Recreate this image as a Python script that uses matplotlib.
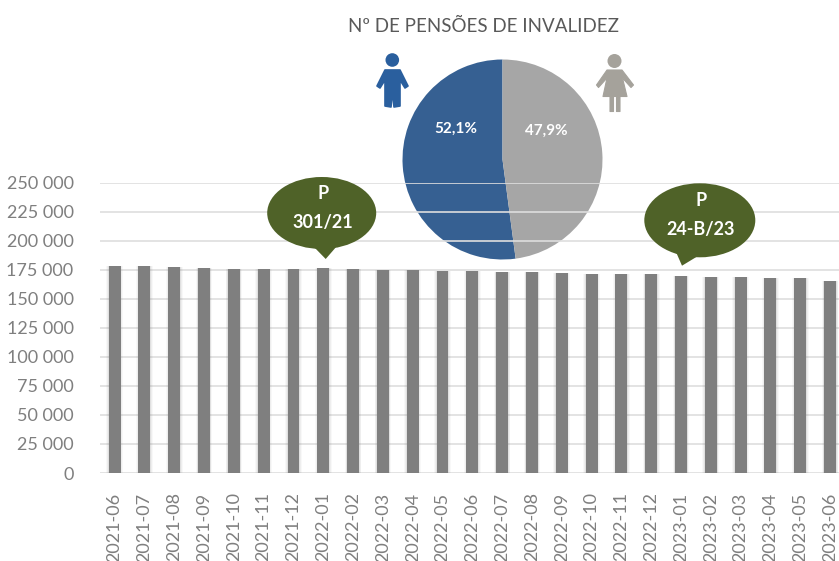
import numpy as np
import matplotlib
matplotlib.use("Agg")
import matplotlib.pyplot as plt
from matplotlib.patches import Ellipse, Polygon, Circle

plt.rcParams['font.family'] = ['Lato', 'DejaVu Sans']

###################### Data ######################
months = ["2021-06", "2021-07", "2021-08", "2021-09", "2021-10", "2021-11", "2021-12",
          "2022-01", "2022-02", "2022-03", "2022-04", "2022-05", "2022-06", "2022-07",
          "2022-08", "2022-09", "2022-10", "2022-11", "2022-12", "2023-01", "2023-02",
          "2023-03", "2023-04", "2023-05", "2023-06"]
pensions = [178300, 178000, 177400, 176600, 175700, 175400, 175300,
            176300, 175700, 174800, 174800, 174000, 174000, 173500,
            173100, 172300, 171700, 171400, 171400, 169700, 168800,
            168500, 168000, 167500, 165400]
yTicks = [0, 25000, 50000, 75000, 100000, 125000, 150000, 175000, 200000, 225000, 250000]
shares = [52.1, 47.9]
shareLabels = ["52,1%", "47,9%"]
title = "Nº DE PENSÕES DE INVALIDEZ"
##################################################

W, H = 839, 561
BLUE = "#366092"
GREY = "#A6A6A6"
GREEN = "#4F6228"
BAR = "#7F7F7F"
TXT = "#7F7F7F"
GRID = "#DEDEDE"

fig = plt.figure(figsize=(W/100, H/100), dpi=100)

# Helper for axes placed in pixel coords (top-left origin)
def PixAxes(x0, y0, x1, y1, z):
    return fig.add_axes([x0/W, 1-y1/H, (x1-x0)/W, (y1-y0)/H], zorder=z)

# Pie sits under the bar axes, gridlines run across it
pieAx = PixAxes(402.5, 59.5, 602.5, 259.5, 1)
pieAx.pie(shares, colors=[BLUE, GREY], startangle=90, counterclock=True, radius=1)
pieAx.set_xlim(-1, 1)
pieAx.set_ylim(-1, 1)
pieAx.text(-0.47, 0.31, shareLabels[0], color="white", fontsize=11, fontweight="bold",
           ha="center", va="center")
pieAx.text(0.44, 0.29, shareLabels[1], color="white", fontsize=11, fontweight="bold",
           ha="center", va="center")

# Bars
ax = PixAxes(100, 182.7, W, 473, 2)
ax.patch.set_visible(False)
x = np.arange(len(months))
for w, a in [(0.56, 0.05), (0.50, 0.08), (0.45, 0.12)]:  # soft shadow
    ax.bar(x, pensions, width=w, color="#808080", alpha=a, zorder=2)
ax.bar(x, pensions, width=0.40, color=BAR, zorder=3)
ax.set_xlim(-0.49, 24.3)
ax.set_ylim(0, 250000)
ax.set_yticks(yTicks)
ax.set_yticklabels([f"{v:,}".replace(",", " ") for v in yTicks], color=TXT, fontsize=13)
ax.set_xticks(x)
ax.set_xticklabels(months, rotation=90, color=TXT, fontsize=13)
ax.tick_params(length=0)
ax.tick_params(axis="y", pad=19)
ax.tick_params(axis="x", pad=14)
ax.grid(axis="y", color=GRID, lw=1.2, zorder=1)
ax.set_axisbelow(True)
for s in ax.spines.values():
    s.set_visible(False)

# Overlay for title, callouts and icons
top = PixAxes(0, 0, W, H, 3)
top.set_xlim(0, W)
top.set_ylim(H, 0)
top.axis("off")
top.text(484, 26, title, color="#595959", fontsize=13.5, ha="center", va="center")

def Callout(cx, cy, w, h, tri, lines):
    top.add_patch(Ellipse((cx, cy), w, h, color=GREEN, lw=0))
    top.add_patch(Polygon(tri, closed=True, color=GREEN, lw=0))
    top.text(cx+1, cy-20, lines[0], color="white", fontsize=13, fontweight="bold", ha="center", va="center")
    top.text(cx+1, cy+9, lines[1], color="white", fontsize=13, fontweight="bold", ha="center", va="center")

Callout(321.7, 213, 109, 72, [(313, 246), (325.7, 259), (337, 246)], ["P", "301/21"])
Callout(699.8, 220.3, 111, 74, [(676, 252), (682, 265.7), (698, 256)], ["P", "24-B/23"])

# Man icon
man = "#2A5F9E"
top.add_patch(Circle((392.3, 60), 6.8, color=man, lw=0))
top.add_patch(Polygon([(385, 70), (400, 70), (408, 86), (405, 88), (400, 80), (400, 106), (394, 107),
                       (392.5, 91), (391, 107), (385, 106), (385, 80), (380, 88), (377, 86)],
                      closed=True, facecolor=man, edgecolor=man, lw=1.2, joinstyle="round"))
# Woman icon
woman = "#A5A29B"
top.add_patch(Circle((614.5, 61), 7, color=woman, lw=0))
top.add_patch(Polygon([(607, 70), (622, 70), (633.5, 85), (631, 87.5), (622.5, 78), (627, 96.5),
                       (620, 96.5), (620, 111.5), (616.5, 111.5), (616.5, 96.5), (613.5, 96.5),
                       (613.5, 111.5), (610, 111.5), (610, 96.5), (603, 96.5), (607, 78),
                       (598.5, 87.5), (596.5, 85)],
                      closed=True, facecolor=woman, edgecolor=woman, lw=0.8, joinstyle="round"))

fig.savefig("out.png", dpi=100)
